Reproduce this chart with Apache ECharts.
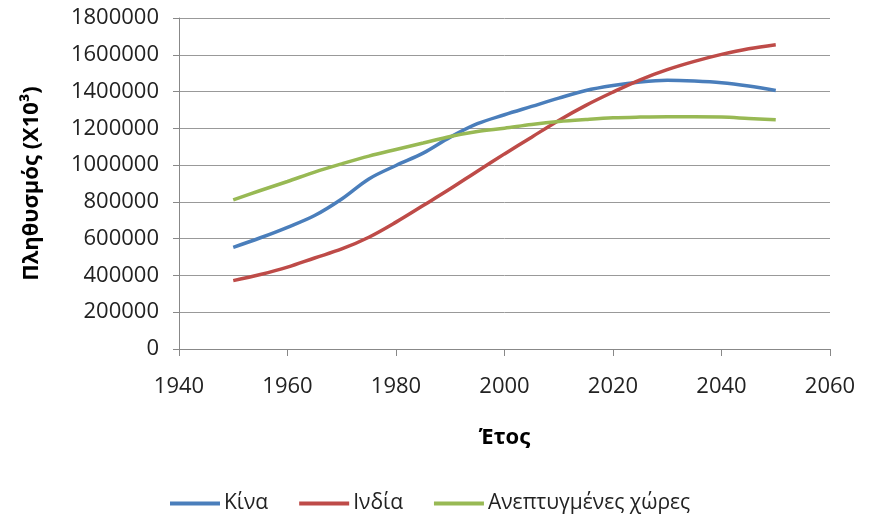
<!DOCTYPE html>
<html>
<head>
<meta charset="utf-8">
<script src="https://cdn.jsdelivr.net/npm/echarts@6/dist/echarts.min.js"></script>
<style>
html,body{margin:0;padding:0;background:#fff;}
#chart{width:875px;height:514px;}
</style>
</head>
<body>
<div id="chart"></div>
<script>
// years (every 5 years)
let years = [1950,1955,1960,1965,1970,1975,1980,1985,1990,1995,2000,2005,2010,2015,2020,2025,2030,2035,2040,2045,2050];
// population values (x10^3)
let china = [553000,605000,662000,726000,816000,925000,998000,1065000,1152000,1225000,1274000,1319000,1364000,1406000,1433000,1452000,1461000,1457000,1448000,1430000,1406000];
let india = [372000,405000,445000,495000,544000,608000,690000,780000,871000,967000,1061000,1152000,1243000,1325000,1397000,1464000,1519000,1564000,1602000,1633000,1655000];
let developed = [811000,862000,911000,962000,1007000,1049000,1085000,1120000,1156000,1183000,1201000,1221000,1237000,1248000,1257000,1261000,1263000,1263000,1261000,1254000,1247000];
let seriesNames = ['Κίνα','Ινδία','Ανεπτυγμένες χώρες'];
let seriesColors = ['#4A7EBB','#BE4B48','#98B954'];

function pairs(vals){
	let out = [];
	for (let i = 0; i < years.length; i++){
		out.push([years[i], vals[i]]);
	}
	return out;
}

let chart = echarts.init(document.getElementById('chart'));
let font = '"Open Sans", "DejaVu Sans", sans-serif';
let allVals = [china, india, developed];
let series = [];
for (let i = 0; i < 3; i++){
	series.push({
		name: seriesNames[i],
		type: 'line',
		smooth: 0.35,
		symbol: 'none',
		data: pairs(allVals[i]),
		lineStyle: {width: 3.5, color: seriesColors[i]},
		itemStyle: {color: seriesColors[i]}
	});
}

//plain numbers, no thousands separator
let plain = function(v){ return String(v); };

let option = {
	animation: false,
	textStyle: {fontFamily: font},
	grid: {left: 179, right: 45, top: 18, bottom: 165},
	legend: {
		top: 488,
		left: 165,
		icon: 'rect',
		itemWidth: 50,
		itemHeight: 4,
		itemGap: 31,
		textStyle: {fontSize: 21, color: '#222', fontFamily: font, padding: [0, 0, 0, -1]},
		data: seriesNames
	},
	xAxis: {
		type: 'value',
		min: 1940,
		max: 2060,
		interval: 20,
		name: 'Έτος',
		nameLocation: 'middle',
		nameGap: 78,
		nameTextStyle: {fontSize: 22, fontWeight: 'bold', color: '#000'},
		axisLine: {lineStyle: {color: '#888'}},
		axisTick: {show: true, length: 7, lineStyle: {color: '#888'}},
		axisLabel: {fontSize: 22, color: '#222', margin: 27, formatter: plain},
		splitLine: {show: false}
	},
	yAxis: {
		type: 'value',
		min: 0,
		max: 1800000,
		interval: 200000,
		name: 'Πληθυσμός (X10³)',
		nameLocation: 'middle',
		nameGap: 136,
		nameTextStyle: {fontSize: 22, fontWeight: 'bold', color: '#000'},
		axisLine: {show: true, lineStyle: {color: '#888'}},
		axisTick: {show: true, length: 6, lineStyle: {color: '#888'}},
		axisLabel: {fontSize: 22, color: '#222', margin: 20, formatter: plain},
		splitLine: {lineStyle: {color: '#999', width: 1}}
	},
	series: series
};
chart.setOption(option);
</script>
</body>
</html>
